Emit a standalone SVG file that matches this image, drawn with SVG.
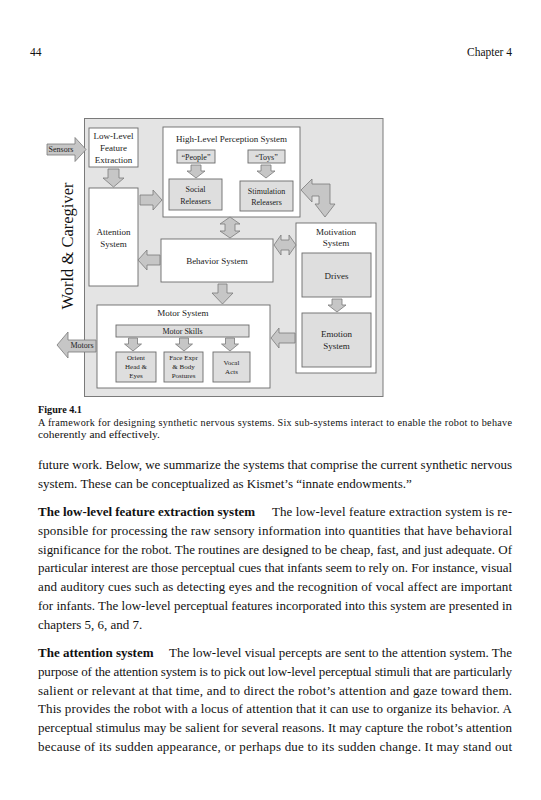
<svg xmlns="http://www.w3.org/2000/svg" width="541" height="800" viewBox="0 0 541 800">
<style>
text{font-family:"Liberation Serif","Times New Roman",serif;fill:#111}
.d{font-size:9px;text-anchor:middle;fill:#222}
.s{font-size:8px;text-anchor:middle;fill:#222}
.xs{font-size:7px;text-anchor:middle;fill:#222}
.wb{fill:#fff;stroke:#6a6a6a;stroke-width:0.9}
.gb{fill:#dedede;stroke:#6a6a6a;stroke-width:0.9}
.ar{fill:#c6c6c6;stroke:#7a7a7a;stroke-width:0.8;stroke-linejoin:miter}
.body{font-size:13px}
.cap{font-size:10.2px}
</style>
<rect width="541" height="800" fill="#fff"/>
<g id="page-header">
<text x="30" y="56" font-size="11.5">44</text>
<text x="512" y="56" font-size="11.5" text-anchor="end">Chapter 4</text>
</g>
<g id="frame">
<rect x="84.5" y="118.5" width="298.5" height="278" fill="#e4e4e4" stroke="#7a7a7a" stroke-width="1"/>
<text transform="translate(73,246) rotate(-90)" font-size="16.5" text-anchor="middle" fill="#222">World &amp; Caregiver</text>
</g>
<g id="llfe"><rect class="wb" x="89" y="128" width="49" height="39"/>
<text class="d" x="113.5" y="139">Low-Level</text><text class="d" x="113.5" y="151">Feature</text><text class="d" x="113.5" y="163">Extraction</text></g>
<g id="attention"><rect class="wb" x="89" y="188" width="49" height="98"/>
<text class="d" x="113.5" y="235">Attention</text><text class="d" x="113.5" y="247">System</text></g>
<g id="hlps"><rect class="wb" x="163" y="127" width="137" height="90"/>
<text class="d" x="231.5" y="142">High-Level Perception System</text>
<rect class="gb" x="177" y="150" width="38" height="13"/><text class="s" x="196" y="159.5">“People”</text>
<rect class="gb" x="248" y="150" width="37" height="13"/><text class="s" x="266.5" y="159.5">“Toys”</text>
<rect class="gb" x="169" y="179" width="53" height="31"/><text class="s" x="195.5" y="192">Social</text><text class="s" x="195.5" y="203.5">Releasers</text>
<rect class="gb" x="240" y="181" width="53" height="30"/><text class="s" x="266.5" y="193.5">Stimulation</text><text class="s" x="266.5" y="205">Releasers</text></g>
<g id="behavior"><rect class="wb" x="161" y="239" width="112" height="43"/>
<text class="d" x="217" y="264">Behavior System</text></g>
<g id="motivation"><rect class="wb" x="296" y="223" width="80" height="150"/>
<text class="d" x="336" y="235">Motivation</text><text class="d" x="336" y="246">System</text>
<rect class="gb" x="302" y="253" width="69" height="44"/><text class="d" x="336.5" y="279">Drives</text>
<rect class="gb" x="302" y="313" width="69" height="54"/><text class="d" x="336.5" y="337">Emotion</text><text class="d" x="336.5" y="349">System</text></g>
<g id="motor"><rect class="wb" x="97" y="305" width="173" height="83"/>
<text class="d" x="183" y="316">Motor System</text>
<rect class="gb" x="116" y="325" width="133" height="12"/><text class="s" x="182.5" y="334">Motor Skills</text>
<rect class="gb" x="116" y="352" width="40" height="30"/><text class="xs" x="136" y="360">Orient</text><text class="xs" x="136" y="369">Head &amp;</text><text class="xs" x="136" y="378">Eyes</text>
<rect class="gb" x="164" y="352" width="39" height="30"/><text class="xs" x="183.5" y="360">Face Expr</text><text class="xs" x="183.5" y="369">&amp; Body</text><text class="xs" x="183.5" y="378">Postures</text>
<rect class="gb" x="213" y="352" width="37" height="30"/><text class="xs" x="231.5" y="365">Vocal</text><text class="xs" x="231.5" y="374">Acts</text></g>
<g id="connectors">
<g id="sensors"><polygon class="ar" points="47,144 75,144 75,137.5 86,149.5 75,161.5 75,155 47,155"/><text class="s" x="61" y="152">Sensors</text></g>
<g id="motors"><polygon class="ar" points="96,340 68,340 68,332 57,345 68,358 68,352 96,352"/><text class="s" x="82" y="348">Motors</text></g>
<polygon class="ar" points="108,169 119,169 119,178 124,178 113.5,187 103,178 108,178"/>
<polygon class="ar" points="140,195 153,195 153,190 162,200 153,210 153,205 140,205"/>
<polygon class="ar" points="191,165 201,165 201,171 205,171 196,178 187,171 191,171"/>
<polygon class="ar" points="261,165 271,165 271,171 275,171 266,178 257,171 261,171"/>
<polygon class="ar" points="301,190 312,179 312,184 330,184 330,204 335,204 325,217 315,204 319,204 319,196 312,196 312,202"/>
<polygon class="ar" points="230,217 240,224 235,224 235,231 240,231 230,238 220,231 225,231 225,224 220,224"/>
<polygon class="ar" points="274,245 281,235 281,240 289,240 289,235 296,245 289,255 289,250 281,250 281,255"/>
<polygon class="ar" points="160,255 147,255 147,250 138,260 147,270 147,265 160,265"/>
<polygon class="ar" points="218,284 227,284 227,293 233,293 222.5,304 212,293 218,293"/>
<polygon class="ar" points="332,299 342,299 342,305 346,305 337,312 328,305 332,305"/>
<polygon class="ar" points="295,333 279,333 279,328 271,338 279,348 279,343 295,343"/>
<polygon class="ar" points="128.5,338 137.5,338 137.5,344 141.5,344 133,351 124.5,344 128.5,344"/>
<polygon class="ar" points="179.5,338 188.5,338 188.5,344 192.5,344 184,351 175.5,344 179.5,344"/>
<polygon class="ar" points="225.5,338 234.5,338 234.5,344 238.5,344 230,351 221.5,344 225.5,344"/>
</g>
<g id="caption">
<text x="38" y="413" class="cap" font-weight="bold">Figure 4.1</text>
<text x="38" y="426" class="cap" textLength="474" lengthAdjust="spacing">A framework for designing synthetic nervous systems. Six sub-systems interact to enable the robot to behave</text>
<text x="38" y="438" class="cap" textLength="122" lengthAdjust="spacingAndGlyphs">coherently and effectively.</text>
</g>
<g id="body-text" class="body">
<text x="38" y="469" class="body" textLength="474" lengthAdjust="spacing">future work. Below, we summarize the systems that comprise the current synthetic nervous</text>
<text x="38" y="488" class="body">system. These can be conceptualized as Kismet’s “innate endowments.”</text>
<text x="38" y="516" class="body" font-weight="bold">The low-level feature extraction system</text>
<text x="272" y="516" class="body" textLength="240" lengthAdjust="spacing">The low-level feature extraction system is re-</text>
<text x="38" y="535" class="body" textLength="474" lengthAdjust="spacing">sponsible for processing the raw sensory information into quantities that have behavioral</text>
<text x="38" y="554" class="body" textLength="474" lengthAdjust="spacing">significance for the robot. The routines are designed to be cheap, fast, and just adequate. Of</text>
<text x="38" y="572" class="body" textLength="474" lengthAdjust="spacing">particular interest are those perceptual cues that infants seem to rely on. For instance, visual</text>
<text x="38" y="591" class="body" textLength="474" lengthAdjust="spacing">and auditory cues such as detecting eyes and the recognition of vocal affect are important</text>
<text x="38" y="610" class="body" textLength="474" lengthAdjust="spacing">for infants. The low-level perceptual features incorporated into this system are presented in</text>
<text x="38" y="629" class="body">chapters 5, 6, and 7.</text>
<text x="38" y="657" class="body" font-weight="bold">The attention system</text>
<text x="169" y="657" class="body" textLength="343" lengthAdjust="spacing">The low-level visual percepts are sent to the attention system. The</text>
<text x="38" y="676" class="body" textLength="474" lengthAdjust="spacing">purpose of the attention system is to pick out low-level perceptual stimuli that are particularly</text>
<text x="38" y="695" class="body" textLength="474" lengthAdjust="spacing">salient or relevant at that time, and to direct the robot’s attention and gaze toward them.</text>
<text x="38" y="713" class="body" textLength="474" lengthAdjust="spacing">This provides the robot with a locus of attention that it can use to organize its behavior. A</text>
<text x="38" y="732" class="body" textLength="474" lengthAdjust="spacing">perceptual stimulus may be salient for several reasons. It may capture the robot’s attention</text>
<text x="38" y="751" class="body" textLength="474" lengthAdjust="spacing">because of its sudden appearance, or perhaps due to its sudden change. It may stand out</text>
</g>
</svg>
